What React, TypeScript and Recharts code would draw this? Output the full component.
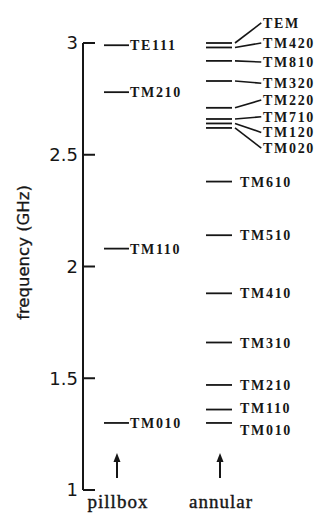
import { ComposedChart, Scatter, XAxis, YAxis, ReferenceLine, ReferenceDot } from 'recharts';

// resonant frequencies (GHz)
const pillboxModes = ['TE111', 'TM210', 'TM110', 'TM010'];
const pillboxFreq = [2.99, 2.78, 2.08, 1.3];

const annularModes = [
  'TEM', 'TM420', 'TM810', 'TM320', 'TM220', 'TM710', 'TM120', 'TM020',
  'TM610', 'TM510', 'TM410', 'TM310', 'TM210', 'TM110', 'TM010',
];
const annularFreq = [3.0, 2.98, 2.92, 2.83, 2.71, 2.66, 2.64, 2.62, 2.38, 2.14, 1.88, 1.66, 1.47, 1.36, 1.3];
// height each label is written at (crowded ones are fanned out)
const annularLabelAt = [3.09, 3.0, 2.915, 2.82, 2.745, 2.67, 2.6, 2.53, 2.38, 2.14, 1.88, 1.66, 1.47, 1.365, 1.27];
// the first few labels are joined to their line by a leader
const leaderCount = 8;

const freqTicks = [1, 1.5, 2, 2.5, 3];
const columns = ['pillbox', 'annular'];

const INK = '#161616';
const LABEL_FONT = '"Liberation Serif", serif';

const pillboxData = pillboxModes.map((name, i) => ({ x: 1, f: pillboxFreq[i], name }));
const annularData = annularModes.map((name, i) => ({
  x: 2,
  f: annularFreq[i],
  name,
  labelF: annularLabelAt[i],
  leader: i < leaderCount,
}));

const modeText = (x: number, y: number, name: string) => (
  <text
    x={x}
    y={y}
    dy="0.36em"
    fill={INK}
    fontFamily={LABEL_FONT}
    fontWeight="bold"
    fontSize={14}
    letterSpacing={1.7}
  >
    {name}
  </text>
);

const PillboxMark = (props: any) => {
  const { cx, cy, payload } = props;
  return (
    <g>
      <line x1={cx - 12} x2={cx + 13} y1={cy} y2={cy} stroke={INK} strokeWidth={1.8} />
      {modeText(cx + 14, cy, payload.name)}
    </g>
  );
};

const AnnularMark = (props: any) => {
  const { cx, cy } = props;
  return <line x1={cx - 13} x2={cx + 13} y1={cy} y2={cy} stroke={INK} strokeWidth={1.8} />;
};

const FreqTick = (props: any) => {
  const { x, y, payload } = props;
  return (
    <g>
      <text
        x={x}
        y={y}
        dy="0.36em"
        textAnchor="end"
        fill={INK}
        fontFamily='"DejaVu Sans", sans-serif'
        fontSize={18}
      >
        {payload.value}
      </text>
      <line x1={x + 5} x2={x + 17} y1={y} y2={y} stroke={INK} strokeWidth={2} />
    </g>
  );
};

const ColumnTick = (props: any) => {
  const { x, y, payload } = props;
  const ax = x + 1;
  return (
    <g>
      <line x1={ax} x2={ax} y1={y - 12} y2={y - 30} stroke={INK} strokeWidth={2} />
      <polygon points={`${ax},${y - 37} ${ax - 3.5},${y - 28} ${ax + 3.5},${y - 28}`} fill={INK} />
      <text
        x={x + 2}
        y={y + 18}
        textAnchor="middle"
        fill={INK}
        stroke={INK}
        strokeWidth={0.4}
        fontFamily={LABEL_FONT}
        fontSize={19}
        letterSpacing={1}
      >
        {columns[payload.value - 1]}
      </text>
    </g>
  );
};

const AxisTitle = (props: any) => {
  const { viewBox } = props;
  const x = viewBox.x + 29;
  const y = viewBox.y + viewBox.height / 2 - 14;
  return (
    <text
      x={x}
      y={y}
      transform={`rotate(-90, ${x}, ${y})`}
      textAnchor="middle"
      fill={INK}
      stroke={INK}
      strokeWidth={0.3}
      fontFamily='"DejaVu Sans", sans-serif'
      fontSize={16.5}
    >
      frequency (GHz)
    </text>
  );
};

export default function App() {
  return (
    <div style={{ position: 'absolute', left: 0, top: 0, width: 320, height: 513, background: '#fff' }}>
      <ComposedChart width={320} height={513} margin={{ top: 43, right: 0, bottom: 0, left: 0 }}>
        <XAxis
          type="number"
          dataKey="x"
          domain={[0.68, 2.98]}
          ticks={[1, 2]}
          height={23}
          axisLine={false}
          tickLine={false}
          tickSize={0}
          tickMargin={0}
          tick={<ColumnTick />}
        />
        <YAxis
          type="number"
          dataKey="f"
          domain={[1, 3]}
          ticks={freqTicks}
          width={83}
          tickSize={0}
          tickMargin={5}
          tickLine={false}
          axisLine={{ stroke: INK, strokeWidth: 2 }}
          tick={<FreqTick />}
          label={(p: any) => <AxisTitle {...p} />}
        />
        <Scatter data={pillboxData} shape={<PillboxMark />} isAnimationActive={false} />
        <Scatter data={annularData} shape={<AnnularMark />} isAnimationActive={false} />
        {annularData.filter((d) => d.leader).map((d) => (
          <ReferenceLine
            key={'lead-' + d.name}
            segment={[{ x: 2.155, y: d.f }, { x: 2.41, y: d.labelF }]}
            stroke={INK}
            strokeWidth={1.6}
            ifOverflow="visible"
          />
        ))}
        {annularData.map((d) => (
          <ReferenceDot
            key={'lab-' + d.name}
            x={2}
            y={d.labelF}
            ifOverflow="visible"
            shape={(p: any) => modeText(p.cx + (d.leader ? 44 : 21), p.cy, d.name)}
          />
        ))}
      </ComposedChart>
    </div>
  );
}
